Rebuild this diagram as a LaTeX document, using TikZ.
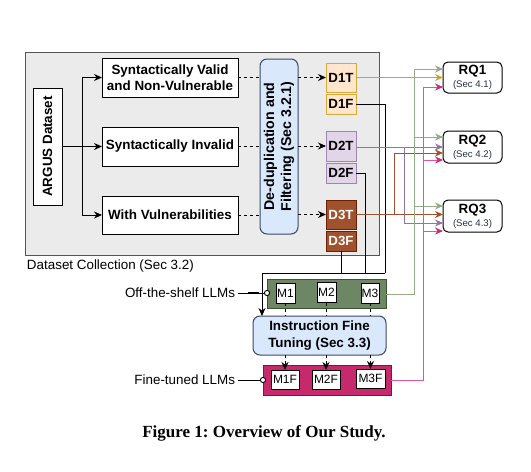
\documentclass[tikz,border=0pt]{standalone}
\usepackage{fontspec}
\setmainfont{Liberation Sans}
\newfontfamily\capfont{Liberation Serif}
\usetikzlibrary{arrows.meta,calc}
\definecolor{graybg}{HTML}{EBEBEB}
\definecolor{grayedge}{HTML}{555555}
\definecolor{bluefill}{HTML}{DAE8FC}
\definecolor{blueedge}{HTML}{3A4A66}
\definecolor{d1fill}{HTML}{FFE6CC}
\definecolor{d1edge}{HTML}{D9A93B}
\definecolor{d1line}{HTML}{D4A22A}
\definecolor{d2fill}{HTML}{E1D5E7}
\definecolor{d2edge}{HTML}{9E86B0}
\definecolor{d2line}{HTML}{9673A6}
\definecolor{d3fill}{HTML}{A0522D}
\definecolor{d3edge}{HTML}{6D1F00}
\definecolor{d3line}{HTML}{A0522D}
\definecolor{greenfill}{HTML}{6D8764}
\definecolor{greenedge}{HTML}{3A5431}
\definecolor{greenline}{HTML}{94AB86}
\definecolor{pinkfill}{HTML}{C62A6C}
\definecolor{pinkedge}{HTML}{A50040}
\definecolor{pinkline}{HTML}{E0569A}
\definecolor{pinkarrow}{HTML}{D42A78}
\definecolor{secblue}{HTML}{23304A}
\frenchspacing
\begin{document}
\begin{tikzpicture}[x=1pt,y=-1pt,
  every node/.style={inner sep=0pt,outer sep=0pt},
  bfont/.style={font=\fontsize{13.4}{15.5}\selectfont\bfseries},
  wbox/.style={draw=black,fill=white,line width=1pt,align=center,bfont},
  dbox/.style={line width=1pt,align=center,font=\fontsize{13.3}{15}\selectfont\bfseries,minimum width=30pt},
  mbox/.style={draw=black,fill=white,line width=0.9pt,font=\fontsize{12}{14}\selectfont},
  rqbox/.style={draw=black,fill=white,line width=1pt,rounded corners=5pt,align=center,minimum width=59pt},
  arr/.style={-{Stealth[length=8pt,width=7pt]}},
  parr/.style={-{Stealth[length=8pt,width=7pt,color=pinkarrow]}},
  conn/.style={line width=0.9pt},
  dsh/.style={line width=1pt,dash pattern=on 3pt off 3pt}]
\useasboundingbox (0,0) rectangle (531,472);
\fill[white] (0,0) rectangle (531,472);

% dataset collection area
\node[draw=grayedge,fill=graybg,line width=1pt,minimum width=354pt,minimum height=203pt] (area) at (202,153.5) {};
\node[anchor=west,font=\fontsize{13.4}{15}\selectfont] (arealbl) at (27,266) {Dataset Collection (Sec 3.2)};

\node[wbox,rotate=90,minimum width=117pt,minimum height=29pt] (argus) at (47.5,146.5) {ARGUS Dataset};
\node[wbox,minimum width=136pt,minimum height=39pt] (sv) at (170,77.5) {Syntactically Valid\\and Non-Vulnerable};
\node[wbox,minimum width=136pt,minimum height=39pt] (si) at (170,146.5) {Syntactically Invalid};
\node[wbox,minimum width=136pt,minimum height=38pt] (wv) at (170,215) {With Vulnerabilities};

\node[draw=blueedge,fill=bluefill,line width=1pt,rounded corners=7pt,rotate=90,minimum width=175pt,minimum height=38pt,align=center,font=\fontsize{14.2}{17}\selectfont\bfseries] (dedup) at (279,146.5) {De-duplication and\\Filtering (Sec 3.2.1)};

\node[dbox,draw=d1edge,fill=d1fill,minimum height=29pt] (d1t) at (341,77.5) {D1T};
\node[dbox,draw=d1edge,fill=d1fill,minimum height=20pt] (d1f) at (341,104) {D1F};
\node[dbox,draw=d2edge,fill=d2fill,minimum height=30pt] (d2t) at (341,146) {D2T};
\node[dbox,draw=d2edge,fill=d2fill,minimum height=20pt] (d2f) at (341,173) {D2F};
\node[dbox,draw=d3edge,fill=d3fill,text=white,minimum height=29pt] (d3t) at (341,214.5) {D3T};
\node[dbox,draw=d3edge,fill=d3fill,text=white,minimum height=20pt] (d3f) at (341,241) {D3F};

% RQ boxes
\node[rqbox,minimum height=31pt] (rq1) at (472.5,77.5) {{\fontsize{13.4}{15}\selectfont\bfseries RQ1}\\[1pt]{\fontsize{9.6}{11}\selectfont\color{secblue}(Sec 4.1)}};
\node[rqbox,minimum height=32pt] (rq2) at (472.5,147) {{\fontsize{13.4}{15}\selectfont\bfseries RQ2}\\[1pt]{\fontsize{9.6}{11}\selectfont\color{secblue}(Sec 4.2)}};
\node[rqbox,minimum height=32pt] (rq3) at (472.5,216) {{\fontsize{13.4}{15}\selectfont\bfseries RQ3}\\[1pt]{\fontsize{9.6}{11}\selectfont\color{secblue}(Sec 4.3)}};

% off-the-shelf models
\node[draw=greenedge,fill=greenfill,line width=1pt,minimum width=119pt,minimum height=29pt] (gbox) at (326.5,293.5) {};
\node[mbox,minimum width=19pt,minimum height=20pt] (m1) at (285.5,293) {M1};
\node[mbox,minimum width=19pt,minimum height=20pt] (m2) at (326.5,292.5) {M2};
\node[mbox,minimum width=18pt,minimum height=20pt] (m3) at (370,293) {M3};

\node[draw=blueedge,fill=bluefill,line width=1pt,rounded corners=7pt,minimum width=133pt,minimum height=39pt,align=center,font=\fontsize{13.4}{17}\selectfont\bfseries] (ift) at (319.5,335.5) {Instruction Fine\\Tuning (Sec 3.3)};

% fine-tuned models
\node[draw=pinkedge,fill=pinkfill,line width=1pt,minimum width=128pt,minimum height=30pt] (pbox) at (327,380) {};
\node[mbox,minimum width=28pt,minimum height=19pt] (m1f) at (285,379.5) {M1F};
\node[mbox,minimum width=28pt,minimum height=19pt] (m2f) at (326,379.5) {M2F};
\node[mbox,minimum width=29pt,minimum height=19pt] (m3f) at (370.5,378.5) {M3F};

\node[anchor=east,font=\fontsize{13.4}{15}\selectfont] (otslbl) at (235,293) {Off-the-shelf LLMs};
\node[anchor=east,font=\fontsize{13.4}{15}\selectfont] (ftlbl) at (235,380) {Fine-tuned LLMs};

\node[font=\capfont\fontsize{17}{20}\selectfont\bfseries] (caption) at (264,433) {Figure 1: Overview of Our Study.};

% ARGUS fan-out
\coordinate (fork) at (82,146.5);
\draw[conn] (argus.south) -- (fork);
\draw[conn,arr] (fork) |- (sv.west);
\draw[conn,arr] (fork) -- (si.west);
\draw[conn,arr] (fork) |- (wv.west);

% to dedup
\draw[dsh] (sv.east) -- (sv.east -| dedup.north);
\draw[dsh] (si.east) -- (si.east -| dedup.north);
\draw[dsh] (wv.east) -- (wv.east -| dedup.north);
\draw[dsh,arr] (d1t.west -| dedup.south) -- (d1t.west);
\draw[dsh,arr] (d2t.west -| dedup.south) -- (d2t.west);
\draw[dsh,arr] (d3t.west -| dedup.south) -- (d3t.west);

% training data to fine tuning
\coordinate (bus) at (385,273);
\coordinate (busl) at (262,273);
\draw[conn] (d1f.east) -| (bus);
\draw[conn] (d2f.east) -| (365,273);
\draw[conn] (d3f.south) -- (341,273);
\draw[conn,arr] (bus) -- (busl) -- (busl |- ift.north);

% M to fine tuning
\draw[dsh] (m1.south) -- (m1.south |- ift.north);
\draw[dsh] (m2.south) -- (m2.south |- ift.north);
\draw[dsh] (m3.south) -- (m3.south |- ift.north);
\draw[dsh,arr] (m1f.north |- ift.south) -- (m1f.north);
\draw[dsh,arr] (m2f.north |- ift.south) -- (m2f.north);
\draw[dsh,arr] (m3f.north |- ift.south) -- (m3f.north);

% labels to model groups
\draw[line width=0.9pt] (otslbl.east) ++(3,0) -- (264.5,293);
\draw[line width=1.9pt] (248,293) -- (259,293);
\draw[line width=0.9pt,fill=white] (267,293) circle (2.6pt);
\draw[line width=0.9pt] (ftlbl.east) ++(3,0) -- (260.5,380);
\draw[line width=0.9pt,fill=white] (263,380) circle (2.6pt);

% D1T -> RQ1
\draw[conn,d1line,arr] (d1t.east) -- (d1t.east -| rq1.west);
% D2T -> RQ2, RQ3
\draw[conn,d2line,arr] (356,147) -- (356,147 -| rq2.west);
\draw[conn,d2line,arr] (404,147) -- (404,223) -- (404,223 -| rq3.west);
% D3T -> RQ3, RQ2
\draw[conn,d3line,arr] (d3t.east) -- (d3t.east -| rq3.west);
\draw[conn,d3line,arr] (394,214.5) -- (394,153) -- (394,153 -| rq2.west);
% off-the-shelf -> RQs
\coordinate (gup) at (414,294);
\draw[conn,greenline] (gbox.east |- gup) -- (gup) -- (414,69);
\draw[conn,greenline,arr] (414,69) -- (414,69 -| rq1.west);
\draw[conn,greenline,arr] (414,137) -- (414,137 -| rq2.west);
\draw[conn,greenline,arr] (414,206) -- (414,206 -| rq3.west);
% fine-tuned -> RQs
\coordinate (pup) at (423,380);
\draw[conn,pinkline] (pbox.east) -- (pup) -- (423,87);
\draw[conn,pinkline,parr] (423,87) -- (423,87 -| rq1.west);
\draw[conn,pinkline,parr] (423,160) -- (423,160 -| rq2.west);
\draw[conn,pinkline,parr] (423,231) -- (423,231 -| rq3.west);
\end{tikzpicture}
\end{document}
